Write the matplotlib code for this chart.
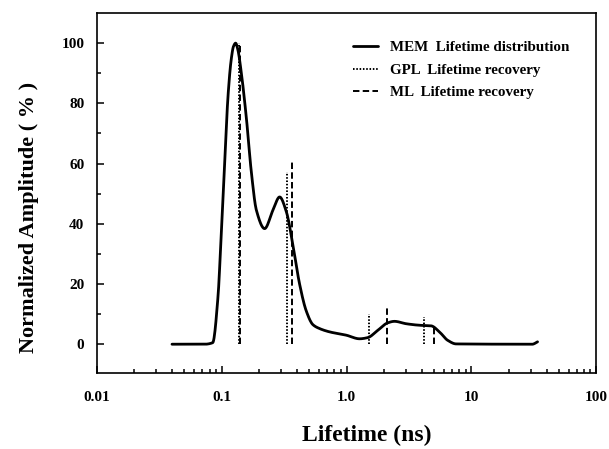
import numpy as np
import pandas as pd
import matplotlib
matplotlib.use("Agg")
import matplotlib.pyplot as plt
from matplotlib.ticker import FixedLocator, NullFormatter, LogLocator

# MEM lifetime distribution (ns, %)
mem_tau = [0.040, 0.073, 0.0847, 0.0934, 0.0995, 0.1057, 0.1123, 0.1196, 0.1245,
           0.1294, 0.1345, 0.1438, 0.1578, 0.1730, 0.1897, 0.2208, 0.2573, 0.2911,
           0.3296, 0.3719, 0.4207, 0.4763, 0.5377, 0.608, 0.731, 0.995, 1.271,
           1.481, 1.778, 2.138, 2.421, 3.004, 3.837, 4.76, 5.546, 6.457, 7.55,
           30.76, 33.9]
mem_amp = [0.0, 0.0, 0.5, 15.7, 37.9, 60.0, 82.2, 95.0, 99.0,
           100.0, 98.0, 90.0, 75.0, 57.0, 44.5, 38.4, 44.5, 48.9,
           44.0, 33.0, 20.0, 11.0, 6.5, 5.2, 4.1, 3.0, 1.8,
           2.2, 4.6, 7.1, 7.6, 6.8, 6.3, 6.1, 4.1, 1.3, 0.1,
           0.0, 0.8]

# GPL lifetime recovery (dotted sticks)
gpl_tau = [0.1375, 0.336, 1.508, 4.21]
gpl_amp = [100.0, 57.2, 10.2, 8.9]

# ML lifetime recovery (dashed sticks)
ml_tau = [0.139, 0.365, 2.117, 5.06]
ml_amp = [100.0, 61.3, 12.2, 6.5]

xticks = [0.01, 0.1, 1.0, 10, 100]
xticklabels = ["0.01", "0.1", "1.0", "10", "100"]
yticks = [0, 20, 40, 60, 80, 100]

plt.rcParams['font.family'] = ['Liberation Serif', 'DejaVu Serif']
plt.rcParams['font.weight'] = 'bold'

fig = plt.figure(figsize=(6.09, 4.49), dpi=100)
ax = fig.add_axes([0.159, 0.169, 0.820, 0.802])

lx = np.log10(mem_tau)
fine = np.linspace(lx[0], lx[-1], 800)
s = pd.Series(mem_amp, index=lx)
s2 = s.reindex(s.index.union(fine)).interpolate(method='pchip')
yy = s2.loc[fine].values
ax.plot(10 ** fine, yy, color='black', lw=2.0, solid_capstyle='round',
        label='MEM  Lifetime distribution')

for i, (t, a) in enumerate(zip(gpl_tau, gpl_amp)):
    ax.plot([t, t], [0, a], color='black', lw=1.4, dashes=(0.8, 0.9),
            label='GPL  Lifetime recovery' if i == 0 else None)
for i, (t, a) in enumerate(zip(ml_tau, ml_amp)):
    ax.plot([t, t], [0, a], color='black', lw=1.4, dashes=(3.3, 1.7),
            label='ML  Lifetime recovery' if i == 0 else None)

ax.set_xscale('log')
ax.set_xlim(0.01, 100)
ax.set_ylim(-9.6, 110)
ax.set_xticks(xticks)
ax.set_xticklabels(xticklabels)
ax.xaxis.set_minor_locator(LogLocator(base=10, subs=np.arange(2, 10)))
ax.xaxis.set_minor_formatter(NullFormatter())
ax.set_yticks(yticks)
ax.yaxis.set_minor_locator(FixedLocator([10, 30, 50, 70, 90]))

ax.tick_params(which='both', direction='in', top=False, right=False,
               labelsize=11, width=1.1)
ax.tick_params(axis='x', which='major', pad=13)
ax.tick_params(axis='y', which='major', pad=9)
ax.tick_params(which='major', length=5)
ax.tick_params(which='minor', length=3)
for lab in ax.get_xticklabels() + ax.get_yticklabels():
    lab.set_fontweight('bold')
for sp in ax.spines.values():
    sp.set_linewidth(1.2)

ax.set_xlabel('Lifetime (ns)', fontsize=17, fontweight='bold')
ax.xaxis.set_label_coords(0.541, -0.145)
ax.set_ylabel('Normalized Amplitude ( % )', fontsize=16, fontweight='bold')
ax.yaxis.set_label_coords(-0.115, 0.433)

leg = ax.legend(loc='upper left', bbox_to_anchor=(0.485, 0.96), frameon=False,
                prop={'size': 10.8, 'weight': 'bold'}, handlelength=1.7,
                handletextpad=0.8, labelspacing=0.6)

fig.savefig('out.png', dpi=100)
